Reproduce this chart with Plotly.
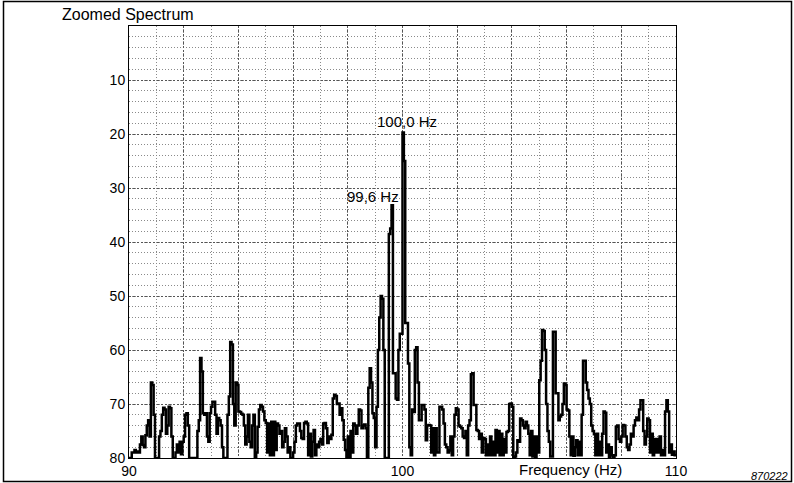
import plotly.graph_objects as go

# ---- data -------------------------------------------------------------
f_start = 90.0
f_step = 0.05

spectrum_db = [
    # 90 Hz
    80, 80, 79, 79, 78.5, 79, 78.8, 79, 77.5, 76, 77.6, 78, 75.8, 74, 73, 76, 66, 66.5, 72, 80,
    # 91 Hz
    80, 80, 76, 75, 72, 70.7, 71, 75.5, 74, 70.5, 70.8, 76, 80, 80, 79, 77.5, 79, 77, 79.3, 77,
    # 92 Hz
    76, 72, 71.7, 74, 80, 80, 80, 80, 80, 80, 75, 73, 61.5, 64, 71.7, 72, 71.7, 76, 77, 71.7,
    # 93 Hz
    70.5, 69.6, 69.6, 72, 75.5, 72.6, 73, 74, 78, 80, 80, 80, 72, 68.6, 58.5, 59, 70, 74, 66, 66.5,
    # 94 Hz
    71.4, 71.5, 71.8, 72, 74, 77.5, 76, 72, 77, 78, 74, 72, 79.8, 79, 74.2, 71, 70.2, 70.5, 71.4, 73,
    # 95 Hz
    73.5, 79, 73.6, 79.5, 73.3, 79.5, 73.3, 78.5, 73.6, 74, 75.5, 75, 78, 77, 74.5, 76, 79, 78, 80, 80,
    # 96 Hz
    79, 77, 74, 73.6, 73.6, 75, 76.3, 76.5, 73.5, 73.3, 73.6, 79.5, 75.5, 79.7, 77, 74.8, 79.5, 77.5, 78, 77,
    # 97 Hz
    76.5, 77.5, 73.6, 73.5, 74.5, 77.2, 76, 76.5, 75.7, 69, 68.3, 68.5, 70, 69.9, 72, 70.8, 73, 76.6, 78.5, 80,
    # 98 Hz
    76, 80, 75, 79, 73.6, 74, 75.5, 74, 71, 71.2, 74.5, 74, 73.8, 74.5, 80, 67, 63.4, 66, 71.7, 72.6,
    # 99 Hz
    78, 70.5, 60, 54, 50, 50.5, 60, 80, 80, 80, 38.5, 37.5, 33.2, 64.3, 64.3, 69, 69.2, 60, 57, 57,
    # 100 Hz
    19.7, 25, 55, 55, 62.5, 78, 79.5, 71, 71.5, 60, 59.5, 66, 73, 73, 70.2, 70.2, 71, 76.7, 74, 73.9,
    # 101 Hz
    74, 79, 74.5, 79.5, 74.5, 79, 79, 70.5, 70.5, 71, 73.6, 77.5, 78, 79, 78.6, 76, 79.5, 76, 72, 70.8,
    # 102 Hz
    71, 74, 74.2, 74.5, 76, 76.3, 75, 79.5, 74, 73, 64.5, 64.3, 70.2, 70.2, 74.8, 75, 76.5, 75.5, 79, 76.3,
    # 103 Hz
    76.5, 79.5, 77.5, 79.5, 76, 79.5, 77, 79.5, 74.8, 79, 75, 79.5, 75.5, 79.5, 76.5, 79, 75.2, 75, 70, 69.9,
    # 104 Hz
    70.5, 80, 79.7, 79, 76.7, 77, 72.7, 73, 74, 74.5, 73.3, 74, 75.5, 79.5, 75, 79.7, 76, 80, 76, 79,
    # 105 Hz
    65.6, 62, 56.3, 56.5, 60, 70, 75, 77, 79.7, 79.7, 56.6, 56.6, 68, 68, 73, 72.3, 72, 70, 66.2, 66.5,
    # 106 Hz
    71, 71.2, 76, 79.5, 76, 79.6, 78, 76.7, 79.5, 77, 79.5, 72, 62, 62, 66, 67.4, 69, 70, 74, 75,
    # 107 Hz
    75.6, 79.5, 75.5, 79.5, 77, 79.5, 75.5, 71.4, 71.6, 79, 77.5, 80, 78, 79.5, 80, 79.5, 74.2, 74, 76.5, 77,
    # 108 Hz
    76, 73.9, 74, 76, 78, 78.5, 77.5, 75.5, 76, 74, 73, 72.5, 73, 71, 69.3, 69.3, 75, 77.5, 76, 72.7,
    # 109 Hz
    73, 79, 75.5, 79.5, 76.5, 79, 76.5, 79, 76, 79.5, 78.5, 79.5, 71.4, 69.3, 71.4, 79, 77.5, 79.4, 78.8, 79.5,
    # 110 Hz
    79.5,
]
freqs = [round(f_start + f_step * i, 2) for i in range(len(spectrum_db))]

peak_freqs = [99.6, 100.0]
peak_labels = ["99,6 Hz", "100,0 Hz"]

x_tick_vals = [90, 92, 94, 96, 98, 100, 102, 104, 106, 108, 110]
x_tick_text = ["90", "", "", "", "", "100", "", "", "", "", "110"]
y_tick_vals = [0, 10, 20, 30, 40, 50, 60, 70, 80]
y_tick_text = ["", "10", "20", "30", "40", "50", "60", "70", "80"]

title_text = "Zoomed Spectrum"
x_label = "Frequency (Hz)"
fig_number = "870222"

# ---- figure -----------------------------------------------------------
FONT = "Liberation Sans, Arial, Helvetica, sans-serif"
W, H = 794, 483
ML, MR, MT, MB = 129, 118, 26, 25
pw = W - ML - MR
ph = H - MT - MB

def px_x(px):
    return (px - ML) / pw

def px_y(py):
    return (H - MB - py) / ph

fig = go.Figure()
fig.add_trace(go.Scatter(
    x=freqs, y=spectrum_db, mode="lines",
    line=dict(color="black", width=2.5, shape="hv"),
    hoverinfo="skip", showlegend=False,
))

annotations = []
for pf, lab in zip(peak_freqs, peak_labels):
    val = spectrum_db[freqs.index(pf)]
    if pf == 100.0:
        annotations.append(dict(x=pf, y=val, xref="x", yref="y", text=lab,
                                showarrow=False, xanchor="center", yanchor="bottom",
                                xshift=4, yshift=0,
                                font=dict(family=FONT, size=15, color="black")))
    else:
        annotations.append(dict(x=pf, y=val, xref="x", yref="y", text=lab,
                                showarrow=False, xanchor="right", yanchor="bottom",
                                xshift=9, yshift=-2,
                                font=dict(family=FONT, size=15, color="black")))

annotations.append(dict(x=px_x(128), y=px_y(14), xref="paper", yref="paper",
                        text=title_text, showarrow=False, xanchor="center", yanchor="middle",
                        font=dict(family=FONT, size=16, color="black")))
annotations.append(dict(x=px_x(570), y=px_y(469), xref="paper", yref="paper",
                        text=x_label, showarrow=False, xanchor="center", yanchor="middle",
                        font=dict(family=FONT, size=15, color="black")))
annotations.append(dict(x=px_x(769), y=px_y(476), xref="paper", yref="paper",
                        text="<i>" + fig_number + "</i>", showarrow=False,
                        xanchor="center", yanchor="middle",
                        font=dict(family=FONT, size=11, color="black")))

fig.update_layout(
    width=W, height=H,
    margin=dict(l=ML, r=MR, t=MT, b=MB, pad=0, autoexpand=False),
    paper_bgcolor="white", plot_bgcolor="white",
    font=dict(family=FONT, size=14, color="black"),
    annotations=annotations,
    shapes=[dict(type="rect", xref="paper", yref="paper",
                 x0=px_x(3.5), x1=px_x(791.5), y0=px_y(481.5), y1=px_y(1.5),
                 line=dict(color="black", width=1.5), fillcolor="rgba(0,0,0,0)",
                 layer="below")],
)

fig.update_xaxes(
    range=[90, 110], tickmode="array", tickvals=x_tick_vals, ticktext=x_tick_text,
    showgrid=True, gridcolor="#555555", griddash="2px,2px", gridwidth=1,
    minor=dict(tick0=90, dtick=1, showgrid=True, gridcolor="#8a8a8a",
               griddash="1px,2px", gridwidth=1, ticks=""),
    showline=True, linecolor="black", linewidth=1, mirror=True,
    ticks="", zeroline=False, tickfont=dict(size=14), ticklabelstandoff=0,
    automargin=False,
)
fig.update_yaxes(
    range=[80, 0], tickmode="array", tickvals=y_tick_vals, ticktext=y_tick_text,
    showgrid=True, gridcolor="#555555", griddash="2px,2px", gridwidth=1,
    minor=dict(tick0=0, dtick=2, showgrid=True, gridcolor="#8a8a8a",
               griddash="1px,2px", gridwidth=1, ticks=""),
    showline=True, linecolor="black", linewidth=1, mirror=True,
    ticks="", zeroline=False, tickfont=dict(size=14), automargin=False,
)

fig.write_html("out.html",
               config={"displayModeBar": False},
               post_script="document.body.style.margin='0px';")
